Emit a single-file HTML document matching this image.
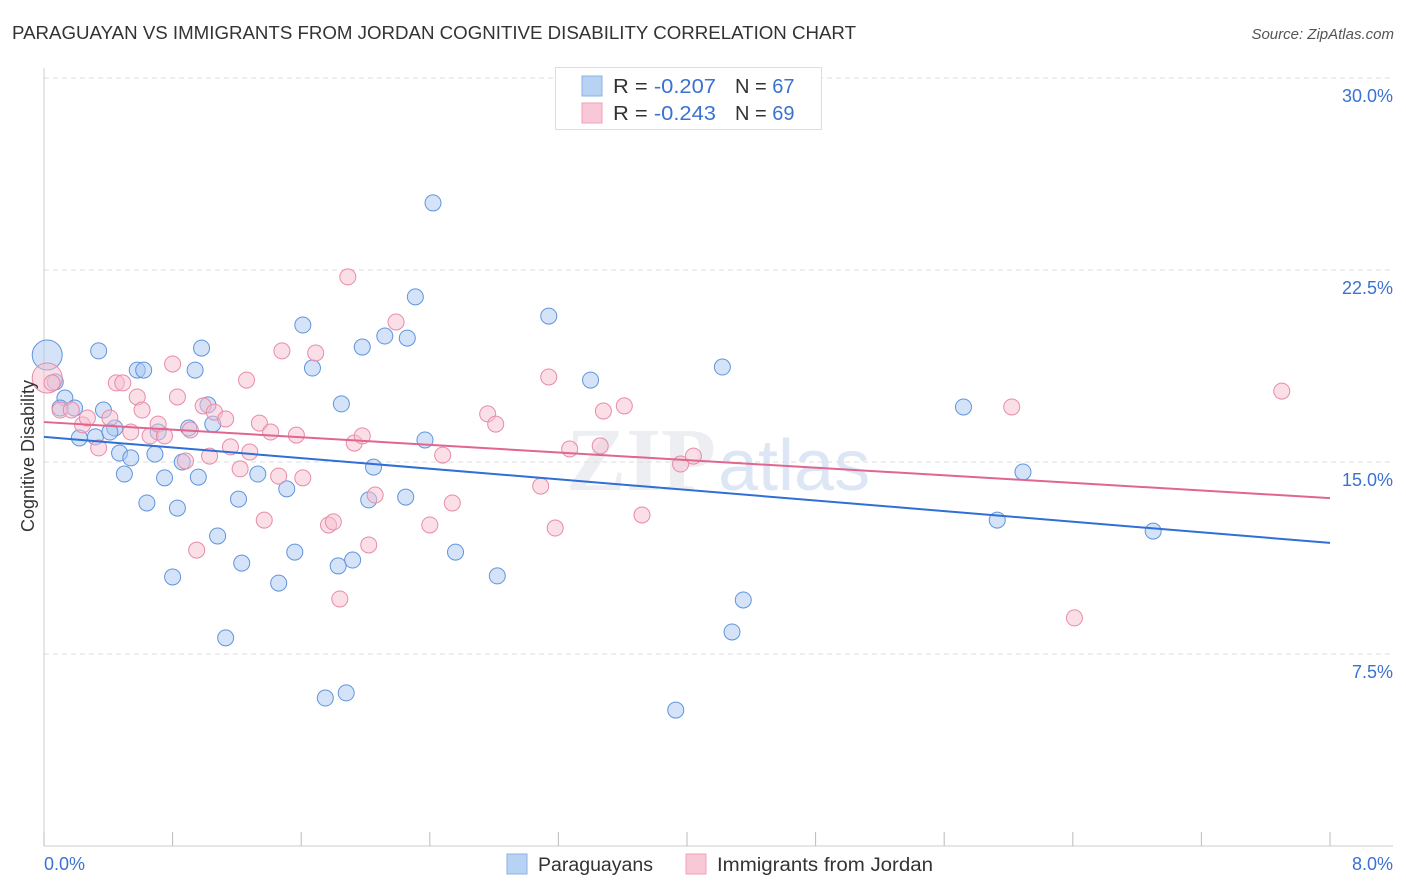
<!DOCTYPE html>
<html><head><meta charset="utf-8"><style>
body{margin:0;background:#fff;font-family:"Liberation Sans",sans-serif;}
svg{display:block}
</style></head><body>
<svg id="chart" width="1406" height="892">
<text x="12" y="39" font-size="18" fill="#333" textLength="844" lengthAdjust="spacingAndGlyphs">PARAGUAYAN VS IMMIGRANTS FROM JORDAN COGNITIVE DISABILITY CORRELATION CHART</text>
<text x="1394" y="39" font-size="15" fill="#555" font-style="italic" text-anchor="end">Source: ZipAtlas.com</text>
<text x="716" y="490" font-size="90" fill="#eceef2" text-anchor="end" font-family="Liberation Serif" font-weight="bold">ZIP</text>
<text x="718" y="490" font-size="72" fill="#dde6f4">atlas</text>
<g id="grid"></g>
<g id="axes"></g>
<g id="pts"></g>
<g id="trend"></g>
<text transform="translate(34,456) rotate(-90)" font-size="18" fill="#333" text-anchor="middle">Cognitive Disability</text>
<text x="44" y="870" font-size="18" fill="#3b72d0">0.0%</text>
<text x="1393" y="870" font-size="18" fill="#3b72d0" text-anchor="end">8.0%</text>
<g>
<rect x="555.5" y="67.5" width="266" height="62" fill="#fff" stroke="#ddd"/>
<rect x="582" y="76" width="20" height="20" fill="#b8d2f4" stroke="#8ab2e6"/>
<rect x="582" y="103" width="20" height="20" fill="#f9c8d7" stroke="#ef9fbb"/>
<text x="613" y="93" font-size="20" fill="#333" textLength="103" lengthAdjust="spacingAndGlyphs">R = <tspan fill="#3b72d0">-0.207</tspan></text>
<text x="735" y="93" font-size="20" fill="#333">N = <tspan fill="#3b72d0">67</tspan></text>
<text x="613" y="120" font-size="20" fill="#333" textLength="103" lengthAdjust="spacingAndGlyphs">R = <tspan fill="#3b72d0">-0.243</tspan></text>
<text x="735" y="120" font-size="20" fill="#333">N = <tspan fill="#3b72d0">69</tspan></text>
</g>
<g>
<rect x="507" y="854" width="20" height="20" fill="#b8d2f4" stroke="#8ab2e6"/>
<text x="538" y="871" font-size="19" fill="#333" textLength="115" lengthAdjust="spacingAndGlyphs">Paraguayans</text>
<rect x="686" y="854" width="20" height="20" fill="#f9c8d7" stroke="#ef9fbb"/>
<text x="717" y="871" font-size="19" fill="#333" textLength="216" lengthAdjust="spacingAndGlyphs">Immigrants from Jordan</text>
</g>
</svg>
<script>
const yTicks=[7.5,15,22.5,30];
const yTickLabels=["7.5%","15.0%","22.5%","30.0%"];
const xTicks=[0,0.8,1.6,2.4,3.2,4,4.8,5.6,6.4,7.2,8];
const blueX=[0.02,0.07,0.13,0.10,0.19,0.22,0.32,0.37,0.34,0.44,0.41,0.47,0.50,0.54,0.58,0.62,0.64,0.69,0.71,0.75,0.80,0.83,0.86,0.90,0.94,0.96,0.98,1.02,1.05,1.08,1.13,1.21,1.23,1.33,1.46,1.51,1.56,1.61,1.67,1.75,1.83,1.85,1.88,1.92,1.98,2.02,2.05,2.12,2.25,2.26,2.31,2.37,2.42,2.56,2.82,3.14,3.40,3.93,4.22,4.28,4.35,5.72,5.93,6.09,6.90];
const blueY=[19.18,18.13,17.50,17.11,17.11,15.94,15.98,17.03,19.34,16.33,16.17,15.35,14.53,15.16,18.59,18.59,13.40,15.31,16.17,14.38,10.51,13.20,15.00,16.33,18.59,14.41,19.45,17.23,16.48,12.11,8.13,13.55,11.05,14.53,10.27,13.95,11.48,20.35,18.67,5.78,10.94,17.27,5.98,11.17,19.49,13.52,14.80,19.92,13.63,19.84,21.45,15.86,25.12,11.48,10.55,20.70,18.20,5.31,18.71,8.36,9.61,17.15,12.73,14.61,12.30];
const pinkX=[0.02,0.05,0.10,0.17,0.24,0.27,0.34,0.41,0.45,0.49,0.54,0.58,0.61,0.66,0.71,0.75,0.80,0.83,0.88,0.91,0.95,0.99,1.03,1.06,1.13,1.16,1.22,1.26,1.28,1.34,1.37,1.41,1.46,1.48,1.57,1.61,1.69,1.77,1.80,1.84,1.89,1.93,1.98,2.02,2.06,2.19,2.40,2.48,2.54,2.76,2.81,3.09,3.14,3.18,3.27,3.46,3.48,3.61,3.72,3.96,4.04,6.02,6.41,7.70];
const pinkY=[18.28,18.09,17.03,17.03,16.45,16.72,15.55,16.72,18.09,18.09,16.17,17.54,17.03,16.02,16.48,16.02,18.83,17.54,15.04,16.25,11.56,17.19,15.23,16.95,16.68,15.59,14.73,18.20,15.39,16.52,12.73,16.17,14.45,19.34,16.05,14.38,19.26,12.54,12.66,9.65,22.23,15.74,16.02,11.76,13.71,20.47,12.54,15.27,13.40,16.88,16.48,14.06,18.32,12.42,15.51,15.63,16.99,17.19,12.93,14.92,15.23,17.15,8.91,17.77];
const trendBlue=[15.98,11.84];
const trendPink=[16.56,13.59];
const NS="http://www.w3.org/2000/svg";
const X=v=>44+v/8*1286;
const Y=v=>846-v/7.5*192;
function mk(tag,attrs,parent){const e=document.createElementNS(NS,tag);for(const k in attrs)e.setAttribute(k,attrs[k]);document.getElementById(parent).appendChild(e);return e;}
yTicks.forEach((t,i)=>{
 const l=mk('line',{x1:44,x2:1393,y1:Y(t),y2:Y(t),stroke:'#ddd','stroke-dasharray':'5,4'},'grid');
 
 
 const tx=mk('text',{x:1393,y:Y(t)+24,'font-size':18,fill:'#3b72d0','text-anchor':'end'},'grid');
 tx.textContent=yTickLabels[i];
 
 
});
const ax=mk('line',{x1:44,x2:44,y1:68,y2:846,stroke:'#ccc'},'axes');


const bx=mk('line',{x1:44,x2:1393,y1:846,y2:846,stroke:'#ccc'},'axes');


xTicks.forEach(t=>{
 const l=mk('line',{x1:X(t),x2:X(t),y1:832,y2:846,stroke:'#bbb'},'axes');
 
 
});
function pts(xs,ys,fill,stroke,name){
 xs.forEach((x,i)=>{
  const c=mk('circle',{cx:X(x),cy:Y(ys[i]),r:i===0?15:8,fill:fill,'fill-opacity':0.5,stroke:stroke,'stroke-width':1},'pts');
  
  
 });
}
pts(blueX,blueY,'#a9c8f2','#5f95dd','point-paraguayans');
pts(pinkX,pinkY,'#f6bfd0','#e98aaa','point-jordan');
const tb=mk('line',{x1:X(0),y1:Y(trendBlue[0]),x2:X(8),y2:Y(trendBlue[1]),stroke:'#2f6fd6','stroke-width':2},'trend');


const tp=mk('line',{x1:X(0),y1:Y(trendPink[0]),x2:X(8),y2:Y(trendPink[1]),stroke:'#e06690','stroke-width':2},'trend');


</script>
</body></html>
